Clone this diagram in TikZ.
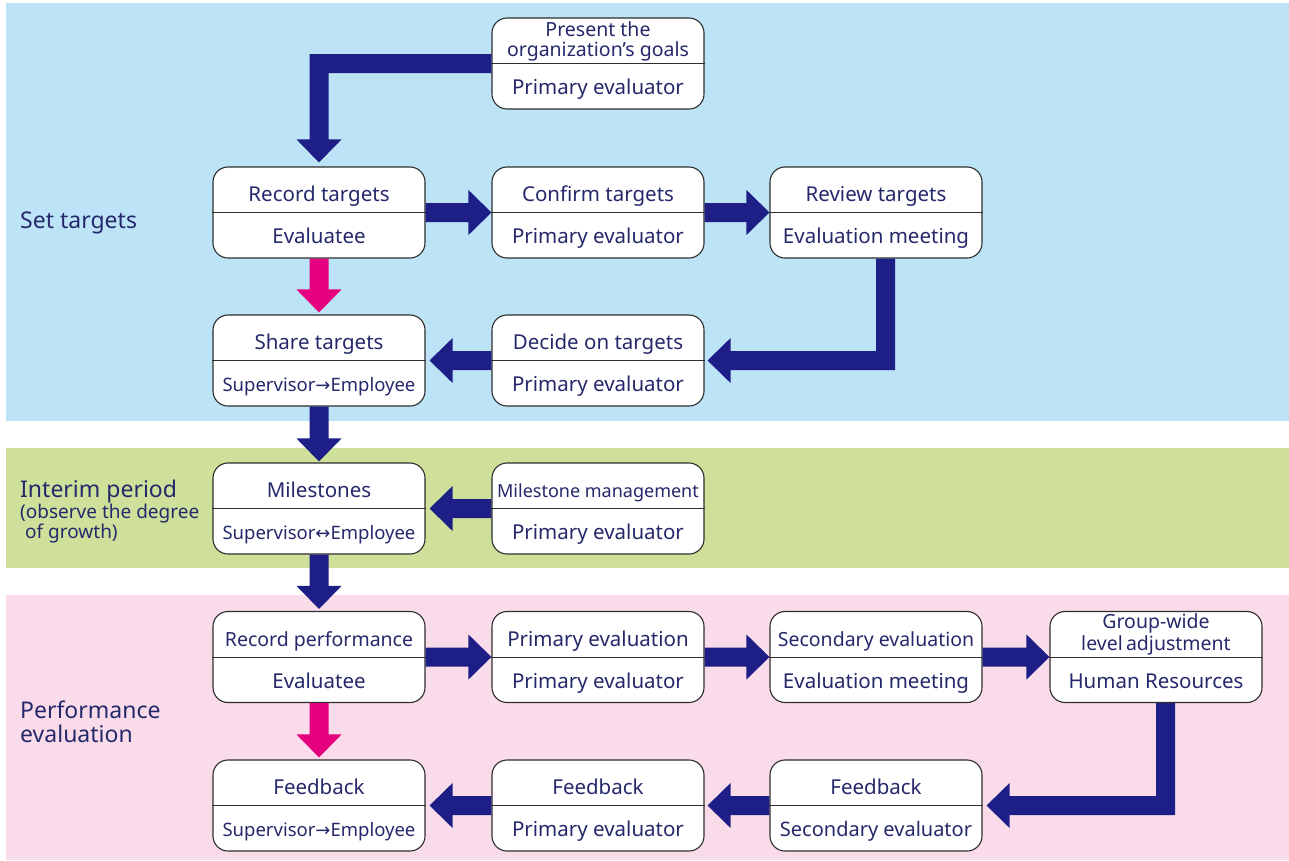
\documentclass[tikz,border=0pt]{standalone}
\usepackage{fontspec}
\setmainfont{Noto Sans}
\newfontfamily\arrowfont{DejaVu Sans}
\usetikzlibrary{calc}

\definecolor{ink}{RGB}{37,41,107}
\definecolor{flowblue}{RGB}{29,31,134}
\definecolor{flowpink}{RGB}{228,0,127}
\definecolor{bandblue}{RGB}{189,227,247}
\definecolor{bandgreen}{RGB}{206,224,154}
\definecolor{bandpink}{RGB}{249,219,233}
\definecolor{boxline}{RGB}{45,45,45}

\tikzset{
  stage/.style={draw=boxline, line width=1.1pt, fill=white, rounded corners=15pt,
    minimum width=212pt, minimum height=91pt, inner sep=0pt},
  divider/.style={draw=boxline, line width=1pt},
  tasktext/.style={text=ink, font=\fontsize{20.5}{24}\selectfont, anchor=base, inner sep=0pt},
  roletext/.style={tasktext},
  pairtext/.style={tasktext, font=\fontsize{18.5}{22}\selectfont},
  phase/.style={text=ink, font=\fontsize{23}{27}\selectfont, anchor=base west, inner sep=0pt},
  phasenote/.style={text=ink, font=\fontsize{19}{22}\selectfont, anchor=base west, inner sep=0pt},
  flow/.style={fill=flowblue},
  accent/.style={fill=flowpink}
}

% arrow glyphs between the two parties
\newcommand\toarrow{{\arrowfont\fontsize{18}{22}\selectfont →}}
\newcommand\botharrow{{\arrowfont\fontsize{18}{22}\selectfont ↔}}

% fat block arrows: shaft 19pt wide, head 45pt wide and 23pt long
\newcommand\flowright[3][flow]{\fill[#1] let \p1=(#2), \p2=(#3) in
  (\x1,\y1+9.5) -- (\x2-23,\y1+9.5) -- (\x2-23,\y1+22.5) -- (\x2,\y1)
  -- (\x2-23,\y1-22.5) -- (\x2-23,\y1-9.5) -- (\x1,\y1-9.5) -- cycle;}
\newcommand\flowleft[3][flow]{\fill[#1] let \p1=(#2), \p2=(#3) in
  (\x1,\y1+9.5) -- (\x2+23,\y1+9.5) -- (\x2+23,\y1+22.5) -- (\x2,\y1)
  -- (\x2+23,\y1-22.5) -- (\x2+23,\y1-9.5) -- (\x1,\y1-9.5) -- cycle;}
\newcommand\flowdown[3][flow]{\fill[#1] let \p1=(#2), \p2=(#3) in
  (\x1-9.5,\y1) -- (\x1-9.5,\y2+23) -- (\x1-22.5,\y2+23) -- (\x1,\y2)
  -- (\x1+22.5,\y2+23) -- (\x1+9.5,\y2+23) -- (\x1+9.5,\y1) -- cycle;}

\begin{document}
\begin{tikzpicture}[x=1pt, y=-1pt]
\useasboundingbox (0,0) rectangle (1289,860);

% phase bands
\fill[bandblue]  (6,3)   rectangle (1289,421);
\fill[bandgreen] (6,448) rectangle (1289,568);
\fill[bandpink]  (6,595) rectangle (1289,860);

% phase labels
\node[phase] (ph1) at (20,228) {Set targets};
\node[phase] (ph2) at (20,497) {Interim period};
\node[phasenote] (ph2a) at (20,518) {(observe the degree};
\node[phasenote] (ph2b) at (25,538) {of growth)};
\node[phase] (ph3a) at (20,718) {Performance};
\node[phase] (ph3b) at (20,742) {evaluation};

% step boxes
\node[stage] (goals)  at (598,63.5)  {};
\node[stage] (rec)    at (319,212.5) {};
\node[stage] (conf)   at (598,212.5) {};
\node[stage] (rev)    at (876,212.5) {};
\node[stage] (share)  at (319,360.5) {};
\node[stage] (dec)    at (598,360.5) {};
\node[stage] (miles)  at (319,508.5) {};
\node[stage] (mman)   at (598,508.5) {};
\node[stage] (rperf)  at (319,657)   {};
\node[stage] (peval)  at (598,657)   {};
\node[stage] (seval)  at (876,657)   {};
\node[stage] (grp)    at (1156,657)  {};
\node[stage] (fbsup)  at (319,805.5) {};
\node[stage] (fbpri)  at (598,805.5) {};
\node[stage] (fbsec)  at (876,805.5) {};

\foreach \n in {goals,rec,conf,rev,share,dec,miles,mman,rperf,peval,seval,grp,fbsup,fbpri,fbsec}
  \draw[divider] (\n.west) -- (\n.east);

% connectors
\fill[flow] let \p1=(goals.west), \p2=(rec.north) in
  (\x1,\y1+9.5) -- (\x2-9.5,\y1+9.5) -- (\x2-9.5,\y2+27) -- (\x2-22.5,\y2+27)
  -- (\x2,\y2+4) -- (\x2+22.5,\y2+27) -- (\x2+9.5,\y2+27) -- (\x2+9.5,\y1-9.5)
  -- (\x1,\y1-9.5) -- cycle;
\flowright{rec.east}{conf.west}
\flowright{conf.east}{rev.west}
\fill[flow] let \p1=($(rev.south)+(9.5,0)$), \p2=($(dec.east)+(3,0)$) in
  (\x1-9.5,\y1) -- (\x1-9.5,\y2+9.5) -- (\x2+23,\y2+9.5) -- (\x2+23,\y2+22.5)
  -- (\x2,\y2) -- (\x2+23,\y2-22.5) -- (\x2+23,\y2-9.5) -- (\x1+9.5,\y2-9.5)
  -- (\x1+9.5,\y1) -- cycle;
\flowleft{dec.west}{$(share.east)+(4,0)$}
\flowdown[accent]{rec.south}{$(share.north)+(0,-2)$}
\flowdown{share.south}{$(miles.north)+(0,-1)$}
\flowleft{mman.west}{$(miles.east)+(4,0)$}
\flowdown{miles.south}{$(rperf.north)+(0,-2)$}
\flowright{rperf.east}{peval.west}
\flowright{peval.east}{seval.west}
\flowright{seval.east}{grp.west}
\fill[flow] let \p1=($(grp.south)+(9.5,0)$), \p2=($(fbsec.east)+(4,0)$) in
  (\x1-9.5,\y1) -- (\x1-9.5,\y2+9.5) -- (\x2+23,\y2+9.5) -- (\x2+23,\y2+22.5)
  -- (\x2,\y2) -- (\x2+23,\y2-22.5) -- (\x2+23,\y2-9.5) -- (\x1+9.5,\y2-9.5)
  -- (\x1+9.5,\y1) -- cycle;
\flowleft{fbsec.west}{$(fbpri.east)+(3,0)$}
\flowleft{fbpri.west}{$(fbsup.east)+(4,0)$}
\flowdown[accent]{rperf.south}{$(fbsup.north)+(0,-2)$}

% box texts
\node[tasktext, font=\fontsize{19.5}{22}\selectfont] (goals-t1) at ($(goals.center)+(0,-27)$) {Present the};
\node[tasktext, font=\fontsize{19.5}{22}\selectfont] (goals-t2) at ($(goals.center)+(0,-7)$) {organization’s goals};
\node[roletext] (goals-r) at ($(goals.center)+(0,31)$) {Primary evaluator};

\node[tasktext] (rec-t) at ($(rec.center)+(0,-11)$) {Record targets};
\node[roletext] (rec-r) at ($(rec.center)+(0,31)$) {Evaluatee};
\node[tasktext] (conf-t) at ($(conf.center)+(0,-11)$) {Confirm targets};
\node[roletext] (conf-r) at ($(conf.center)+(0,31)$) {Primary evaluator};
\node[tasktext] (rev-t) at ($(rev.center)+(0,-11)$) {Review targets};
\node[roletext] (rev-r) at ($(rev.center)+(0,31)$) {Evaluation meeting};

\node[tasktext] (share-t) at ($(share.center)+(0,-11)$) {Share targets};
\node[pairtext] (share-r) at ($(share.center)+(0,31)$) {Supervisor\toarrow Employee};
\node[tasktext] (dec-t) at ($(dec.center)+(0,-11)$) {Decide on targets};
\node[roletext] (dec-r) at ($(dec.center)+(0,31)$) {Primary evaluator};

\node[tasktext] (miles-t) at ($(miles.center)+(0,-11)$) {Milestones};
\node[pairtext] (miles-r) at ($(miles.center)+(0,31)$) {Supervisor\botharrow Employee};
\node[tasktext, font=\fontsize{18}{22}\selectfont] (mman-t) at ($(mman.center)+(0,-11)$) {Milestone management};
\node[roletext] (mman-r) at ($(mman.center)+(0,31)$) {Primary evaluator};

\node[tasktext, font=\fontsize{19.5}{22}\selectfont] (rperf-t) at ($(rperf.center)+(0,-11)$) {Record performance};
\node[roletext] (rperf-r) at ($(rperf.center)+(0,31)$) {Evaluatee};
\node[tasktext] (peval-t) at ($(peval.center)+(0,-11)$) {Primary evaluation};
\node[roletext] (peval-r) at ($(peval.center)+(0,31)$) {Primary evaluator};
\node[tasktext, font=\fontsize{19.5}{22}\selectfont] (seval-t) at ($(seval.center)+(0,-11)$) {Secondary evaluation};
\node[roletext] (seval-r) at ($(seval.center)+(0,31)$) {Evaluation meeting};
\node[tasktext, font=\fontsize{19.5}{22}\selectfont] (grp-t1) at ($(grp.center)+(0,-29)$) {Group-wide};
\node[tasktext, font=\fontsize{19.5}{22}\selectfont] (grp-t2) at ($(grp.center)+(0,-7)$) {level\,adjustment};
\node[roletext] (grp-r) at ($(grp.center)+(0,31)$) {Human Resources};

\node[tasktext] (fbsup-t) at ($(fbsup.center)+(0,-11)$) {Feedback};
\node[pairtext] (fbsup-r) at ($(fbsup.center)+(0,31)$) {Supervisor\toarrow Employee};
\node[tasktext] (fbpri-t) at ($(fbpri.center)+(0,-11)$) {Feedback};
\node[roletext] (fbpri-r) at ($(fbpri.center)+(0,31)$) {Primary evaluator};
\node[tasktext] (fbsec-t) at ($(fbsec.center)+(0,-11)$) {Feedback};
\node[roletext, font=\fontsize{20}{24}\selectfont] (fbsec-r) at ($(fbsec.center)+(0,31)$) {Secondary evaluator};
\end{tikzpicture}
\end{document}
